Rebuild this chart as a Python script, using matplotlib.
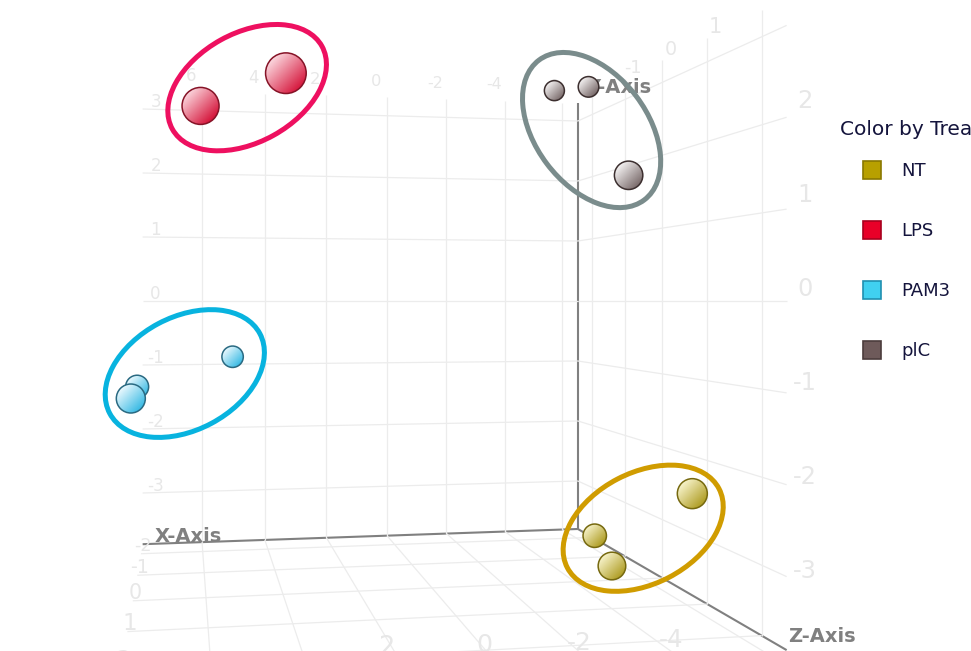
import numpy as np
import matplotlib.pyplot as plt
from matplotlib.colors import to_rgb
from matplotlib.lines import Line2D
from matplotlib.patches import Circle, Ellipse

# PCA scores per treatment (x, y, z)
groups = ["NT", "LPS", "PAM3", "plC"]
nt_x = [-4.62, -5.01, -3.67]
nt_y = [-2.12, -3.31, -3.17]
nt_z = [2.18, -0.42, 1.31]
lps_x = [6.26, 4.90]
lps_y = [1.74, 1.85]
lps_z = [3.28, 4.04]
pam3_x = [5.07, 7.91, 7.77]
pam3_y = [-0.86, -1.23, -1.11]
pam3_z = [-2.16, -1.42, 1.10]
plc_x = [-5.64, -6.38, -3.76]
plc_y = [3.47, 3.43, 1.46]
plc_z = [-2.41, -1.96, 1.61]

x_range = (-6.55, 7.86)
y_range = (-3.8, 3.3)
z_range = (-2.5, 2.4)
x_ticks = [-6, -4, -2, 0, 2, 4, 6]
y_ticks = [-3, -2, -1, 0, 1, 2, 3]
z_ticks = [-2, -1, 0, 1, 2]

# sphere shading (light, dark, edge), legend swatch, hand-drawn ring (color, size, angle, nudge)
styles = {
    "NT":   dict(light="#F8F4CC", dark="#AE9C22", edge="#76690F", swatch="#B8A000", sw_edge="#8A7800",
                 ring="#D09C00", ring_w=171, ring_h=111, ring_a=-27.5, nudge=(-2, -1)),
    "LPS":  dict(light="#FBD6DD", dark="#D5143A", edge="#861327", swatch="#E80028", sw_edge="#A8001E",
                 ring="#EE1060", ring_w=171, ring_h=109, ring_a=-29, nudge=(3, -1)),
    "PAM3": dict(light="#EEFAFE", dark="#38BAE4", edge="#2A6A82", swatch="#40D0F0", sw_edge="#2090B0",
                 ring="#08B3DF", ring_w=170, ring_h=113, ring_a=-28, nudge=(5, -6)),
    "plC":  dict(light="#F6F4F4", dark="#786969", edge="#3C2F2F", swatch="#6E5A5A", sw_edge="#4C3C3C",
                 ring="#7A8C8C", ring_w=175, ring_h=112, ring_a=53, nudge=(-2, -3)),
}
data = {"NT": (nt_x, nt_y, nt_z), "LPS": (lps_x, lps_y, lps_z),
        "PAM3": (pam3_x, pam3_y, pam3_z), "plC": (plc_x, plc_y, plc_z)}

# perspective camera: eye at y=0, looking roughly along -z
W, H = 971, 651
FOCAL = 1000.0
CX, CY = 332.7, 301.0
YAW = np.arctan(0.1477)
KX, KZ = 0.495, 1.193          # box aspect
CAM_U, CAM_W = 3.236, 12.909
BALL = 0.165                   # sphere radius, box units
GRID_C = "#ECECEC"
TICK_C = "#E7E7E7"
AXIS_C = "#808080"
TEXT_C = "#14143C"


def project(x, y, z):
    u = KX * np.asarray(x, float) - CAM_U
    w = KZ * np.asarray(z, float) - CAM_W
    depth = -u * np.sin(YAW) - w * np.cos(YAW)
    side = -u * np.cos(YAW) + w * np.sin(YAW)
    return CX + FOCAL * side / depth, CY - FOCAL * np.asarray(y, float) / depth, depth


def line3d(ax, p0, p1, **kw):
    xs, ys, _ = project([p0[0], p1[0]], [p0[1], p1[1]], [p0[2], p1[2]])
    ax.plot(xs, ys, solid_capstyle="butt", **kw)


def label3d(ax, text, p, dx, dy):
    sx, sy, d = project(*p)
    ax.text(sx + dx, sy + dy, text, fontsize=189 / d, color=TICK_C,
            ha="center", va="center", zorder=4, clip_on=True)


def sphere(ax, sx, sy, r, st, z):
    n = 64
    g = np.linspace(-1, 1, n)
    gx, gy = np.meshgrid(g, g)
    t = np.clip((gx + gy) / 2.83 + 0.5, 0, 1)[..., None]
    img = np.array(to_rgb(st["light"])) * (1 - t) + np.array(to_rgb(st["dark"])) * t
    im = ax.imshow(img, extent=(sx - r, sx + r, sy + r, sy - r), zorder=z, interpolation="bilinear")
    circ = Circle((sx, sy), r, facecolor="none", edgecolor=st["edge"], lw=1.1, zorder=z + 0.01)
    ax.add_patch(circ)
    im.set_clip_path(circ)


fig = plt.figure(figsize=(W / 100, H / 100), dpi=100)
ax = fig.add_axes([0, 0, 1, 1])
ax.axis("off")

x_side, x_left = x_range
y_lo, y_hi = y_range
z_back, z_front = z_range
grid = dict(color=GRID_C, lw=0.9, zorder=3)

# back wall, side wall, floor
for xv in x_ticks:
    line3d(ax, (xv, y_lo, z_back), (xv, y_hi, z_back), **grid)
    line3d(ax, (xv, y_lo, z_back), (xv, y_lo, z_front), **grid)
for yv in y_ticks:
    line3d(ax, (x_left, yv, z_back), (x_side, yv, z_back), **grid)
    line3d(ax, (x_side, yv, z_back), (x_side, yv, z_front), **grid)
for zv in z_ticks:
    line3d(ax, (x_side, y_lo, zv), (x_side, y_hi, zv), **grid)
    line3d(ax, (x_left, y_lo, zv), (x_side, y_lo, zv), **grid)

# axis lines
axis = dict(color=AXIS_C, lw=1.5, zorder=2)
line3d(ax, (x_left, y_lo, z_back), (x_side, y_lo, z_back), **axis)
line3d(ax, (x_side, y_lo, z_back), (x_side, y_hi, z_back), **axis)
line3d(ax, (x_side, y_lo, z_back), (x_side, y_lo, z_front), **axis)

# tick labels (only the ones the viewer actually shows)
for xv in x_ticks:
    label3d(ax, str(xv), (xv, y_hi, z_back), -11, -16)
    if -4 <= xv <= 2:
        label3d(ax, str(xv), (xv, y_lo, z_front), -15 - 2.2 * xv, -21 - 1.3 * xv)
for yv in y_ticks:
    label3d(ax, str(yv), (x_left, yv, z_back), 13, -7)
    if yv < y_ticks[-1]:
        label3d(ax, str(yv), (x_side, yv, z_front), 18, -12 - 2 * yv)
for zv in z_ticks:
    if z_ticks[0] < zv < z_ticks[-1]:
        label3d(ax, str(zv), (x_side, y_hi, zv), 8, -11)
    label3d(ax, str(zv), (x_left, y_lo, zv), 2, -8)

# axis titles
title = dict(fontsize=14, fontweight="bold", color=AXIS_C, ha="left", va="baseline", zorder=5)
sx, sy, _ = project(x_left, y_lo, z_back)
ax.text(sx + 12, sy - 2, "X-Axis", **title)
sx, sy, _ = project(x_side, y_hi, z_back)
ax.text(sx + 8, sy - 10, "Y-Axis", **title)
sx, sy, _ = project(x_side, y_lo, z_front)
ax.text(sx + 1, sy - 8, "Z-Axis", **title)

# spheres, far ones first
balls = []
for g in groups:
    px, py, pd = project(*data[g])
    for a, b, d in zip(px, py, pd):
        balls.append((d, a, b, g))
balls.sort(key=lambda item: -item[0])
for i, (d, a, b, g) in enumerate(balls):
    sphere(ax, a, b, FOCAL * BALL / d, styles[g], 10 + i * 0.1)

# hand-drawn outlines round each group
for g in groups:
    px, py, pd = project(*data[g])
    r = FOCAL * BALL / pd
    st = styles[g]
    cx = ((px - r).min() + (px + r).max()) / 2 + st["nudge"][0]
    cy = ((py - r).min() + (py + r).max()) / 2 + st["nudge"][1]
    ax.add_patch(Ellipse((cx, cy), st["ring_w"], st["ring_h"], angle=st["ring_a"],
                         facecolor="none", edgecolor=st["ring"], lw=3.6, zorder=50))

# legend
handles = [Line2D([], [], marker="s", ls="none", markersize=12.7, markerfacecolor=styles[g]["swatch"],
                  markeredgecolor=styles[g]["sw_edge"], markeredgewidth=1.2) for g in groups]
ax.legend(handles, groups, loc="upper left", bbox_to_anchor=(863 / W, 1 - 162.5 / H), frameon=False,
          fontsize=13, labelcolor=TEXT_C, handlelength=1.0, handletextpad=1.1,
          labelspacing=2.32, borderpad=0, borderaxespad=0)
ax.text(840, 135, "Color by Treatment", fontsize=14.5, color=TEXT_C, ha="left", va="baseline",
        clip_on=True)

ax.set_xlim(0, W)
ax.set_ylim(H, 0)
ax.set_aspect("auto")
fig.savefig("out.png", dpi=100)
